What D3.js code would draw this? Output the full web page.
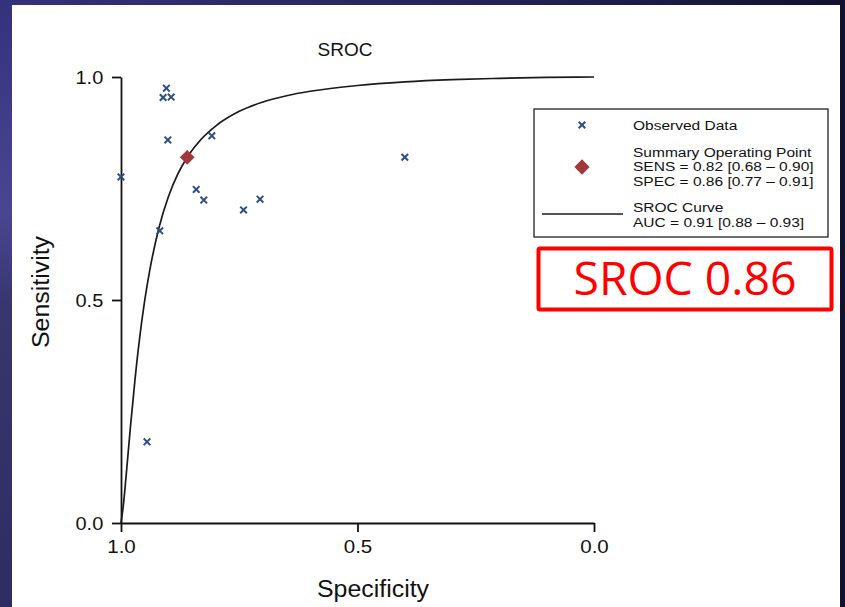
<!DOCTYPE html>
<html>
<head>
<meta charset="utf-8">
<script src="https://cdn.jsdelivr.net/npm/d3@7"></script>
<style>
  html, body { margin: 0; padding: 0; background: #1c1c48; }
  svg { display: block; }
</style>
</head>
<body>
<script>
// Observed study results (specificity, sensitivity)
const studySpecificity = [1.0, 0.945, 0.904, 0.911, 0.894, 0.901, 0.918, 0.808, 0.841, 0.825, 0.741, 0.706, 0.400];
const studySensitivity = [0.776, 0.182, 0.975, 0.954, 0.955, 0.859, 0.655, 0.868, 0.748, 0.724, 0.702, 0.726, 0.820];

// Summary operating point
const summarySpecificity = 0.86;
const summarySensitivity = 0.82;

// SROC curve, sampled along its length (specificity, sensitivity)
const curveSpecificity = [1.0, 0.995, 0.99, 0.98, 0.97, 0.96, 0.95, 0.94, 0.92, 0.90, 0.88, 0.86, 0.83, 0.80, 0.75, 0.70, 0.65, 0.60, 0.50, 0.40, 0.30, 0.20, 0.10, 0.0];
const curveSensitivity = [0.0, 0.040, 0.096, 0.216, 0.326, 0.420, 0.498, 0.562, 0.661, 0.731, 0.782, 0.820, 0.861, 0.890, 0.923, 0.944, 0.958, 0.968, 0.981, 0.989, 0.994, 0.997, 0.999, 1.0];

// Axis ticks
const xTicks = [1.0, 0.5, 0.0];
const yTicks = [0.0, 0.5, 1.0];

// Legend text
const legendObserved = "Observed Data";
const legendSummary = ["Summary Operating Point", "SENS = 0.82 [0.68 \u2013 0.90]", "SPEC = 0.86 [0.77 \u2013 0.91]"];
const legendCurve = ["SROC Curve", "AUC = 0.91 [0.88 \u2013 0.93]"];
const calloutText = "SROC 0.86";

const W = 845, H = 607;
const svg = d3.select("body").append("svg").attr("width", W).attr("height", H);
const defs = svg.append("defs");

// Slide backdrop
const bgTop = defs.append("linearGradient").attr("id", "bgTop").attr("x1", 0).attr("x2", 1).attr("y1", 0).attr("y2", 0);
bgTop.append("stop").attr("offset", "0%").attr("stop-color", "#33327a");
bgTop.append("stop").attr("offset", "55%").attr("stop-color", "#25245a");
bgTop.append("stop").attr("offset", "100%").attr("stop-color", "#12112f");
const bgLeft = defs.append("linearGradient").attr("id", "bgLeft").attr("x1", 0).attr("x2", 0).attr("y1", 0).attr("y2", 1);
bgLeft.append("stop").attr("offset", "0%").attr("stop-color", "#33327a");
bgLeft.append("stop").attr("offset", "35%").attr("stop-color", "#494691");
bgLeft.append("stop").attr("offset", "50%").attr("stop-color", "#38366f");
bgLeft.append("stop").attr("offset", "100%").attr("stop-color", "#2e2c62");
svg.append("rect").attr("width", W).attr("height", H).attr("fill", "url(#bgTop)");
svg.append("rect").attr("width", 14).attr("height", H).attr("fill", "url(#bgLeft)");

// White page
svg.append("rect").attr("x", 12).attr("y", 5).attr("width", 828).attr("height", H - 5).attr("fill", "#ffffff");

const FONT = "'Liberation Sans', Arial, Helvetica, sans-serif";
const SX = 1.15; // slightly widened lettering

function label(g, x, y, str, size, anchor, opts = {}) {
  const t = g.append("text")
    .attr("transform", `translate(${x},${y})${opts.rotate ? ` rotate(${opts.rotate})` : ""} scale(${opts.sx || SX},1)`)
    .attr("font-family", opts.family || FONT)
    .attr("font-size", size)
    .attr("text-anchor", anchor)
    .attr("fill", opts.fill || "#111")
    .text(str);
  return t;
}

const x = d3.scaleLinear().domain([1, 0]).range([121, 594]);
const y = d3.scaleLinear().domain([0, 1]).range([523, 77]);

const chart = svg.append("g");

// Title
label(chart, 345, 56, "SROC", 19, "middle", { sx: 1.0 });

// Axes
const xAxis = d3.axisBottom(x).tickValues(xTicks).tickFormat(d3.format(".1f")).tickSize(9).tickSizeOuter(0).tickPadding(8);
const yAxis = d3.axisLeft(y).tickValues(yTicks).tickFormat(d3.format(".1f")).tickSize(9).tickSizeOuter(0).tickPadding(6);

const gx = chart.append("g").attr("transform", `translate(0,${y(0)})`).call(xAxis);
const gy = chart.append("g").attr("transform", `translate(${x(1)},0)`).call(yAxis);
[gx, gy].forEach(g => {
  g.select(".domain").attr("stroke", "#111").attr("stroke-width", 1.8);
  g.selectAll(".tick line").attr("stroke", "#111").attr("stroke-width", 1.8);
  g.selectAll(".tick text")
    .attr("font-family", FONT).attr("font-size", 19).attr("fill", "#111");
});
gx.selectAll(".tick text").attr("transform", `scale(1.08,1)`);
gy.selectAll(".tick text").attr("dy", "0.36em")
  .attr("transform", `translate(-2,0) scale(1.05,1)`);

// Axis titles
label(chart, 373, 597, "Specificity", 23.5, "middle", { sx: 1.06 });
label(chart, 49, 292, "Sensitivity", 23.5, "middle", { rotate: -90, sx: 1.06 });

// SROC curve
const curvePts = curveSpecificity.map((s, i) => [s, curveSensitivity[i]]);
chart.append("path")
  .datum(curvePts)
  .attr("fill", "none")
  .attr("stroke", "#1a1a1a")
  .attr("stroke-width", 1.7)
  .attr("d", d3.line().x(d => x(d[0])).y(d => y(d[1])).curve(d3.curveMonotoneX));

// Observed data crosses
const crossColor = "#2d4f84";
const cross = d3.symbol().type(d3.symbolTimes).size(30);
chart.append("g").selectAll("path")
  .data(studySpecificity.map((s, i) => [s, studySensitivity[i]]))
  .join("path")
  .attr("transform", d => `translate(${x(d[0])},${y(d[1])})`)
  .attr("d", cross)
  .attr("fill", "none")
  .attr("stroke", crossColor)
  .attr("stroke-width", 2);

// Summary operating point
const diamondColor = "#a3383c";
chart.append("rect")
  .attr("x", -5.2).attr("y", -5.2).attr("width", 10.4).attr("height", 10.4)
  .attr("transform", `translate(${x(summarySpecificity)},${y(summarySensitivity)}) rotate(45)`)
  .attr("fill", diamondColor);

// Legend
const lg = svg.append("g");
lg.append("rect").attr("x", 534).attr("y", 109).attr("width", 294).attr("height", 128)
  .attr("fill", "#fff").attr("stroke", "#222").attr("stroke-width", 1.3);
lg.append("path").attr("transform", "translate(582,125)").attr("d", cross)
  .attr("fill", "none").attr("stroke", crossColor).attr("stroke-width", 2);
lg.append("rect").attr("x", -5.4).attr("y", -5.4).attr("width", 10.8).attr("height", 10.8)
  .attr("transform", "translate(582,167) rotate(45)").attr("fill", diamondColor);
lg.append("line").attr("x1", 542).attr("x2", 623).attr("y1", 214).attr("y2", 214)
  .attr("stroke", "#1a1a1a").attr("stroke-width", 1.6);

const LS = 13.5;
label(lg, 633, 130, legendObserved, LS, "start");
legendSummary.forEach((s, i) => label(lg, 633, 156.5 + i * 14.7, s, LS, "start"));
legendCurve.forEach((s, i) => label(lg, 633, 211.5 + i * 15, s, LS, "start"));

// Red callout
const co = svg.append("g");
co.append("rect").attr("x", 538.5).attr("y", 248.5).attr("width", 293).attr("height", 61)
  .attr("fill", "#fff").attr("stroke", "#ff0000").attr("stroke-width", 4).attr("rx", 1.5);
label(co, 685, 295, calloutText, 45, "middle", { sx: 1.03, fill: "#ff0000", family: "'Open Sans', 'Noto Sans', sans-serif" })
  .attr("font-weight", 400);
</script>
</body>
</html>
